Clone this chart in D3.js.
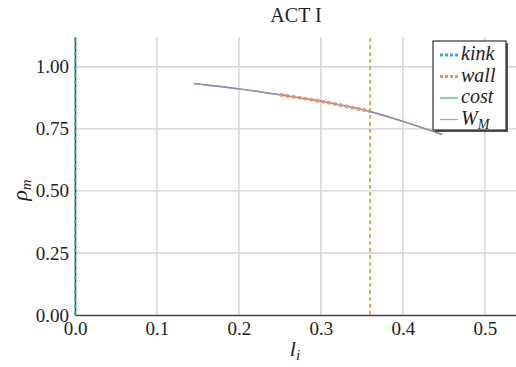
<!DOCTYPE html>
<html><head><meta charset="utf-8">
<script src="https://cdn.jsdelivr.net/npm/d3@7"></script>
</head><body style="margin:0;background:#fff"><svg id="c" width="516" height="367" style="display:block"></svg>
<script>
const xTicks=[0,0.1,0.2,0.3,0.4,0.5];
const yTicks=[0,0.25,0.5,0.75,1.0];
const wmX=[0.145,0.2,0.25,0.3,0.36,0.4,0.448];
const wmY=[0.933,0.911,0.887,0.861,0.820,0.780,0.727];
const wallX=[0.25,0.3,0.36];
const wallY=[0.887,0.861,0.820];
const costX=wmX, costY=wmY;
const vLines=[{x:0,color:"#17becf"},{x:0.36,color:"#bfa030"}];
const legendItems=[{t:"kink",c:"#3ba8e8",dot:true},{t:"wall",c:"#ef8f6f",dot:true},{t:"cost",c:"#55b86a",dot:false},{t:"W",sub:"M",c:"#c98bdc",dot:false}];

const FONT="Liberation Serif";
const svg=d3.select("#c");
const W=516,H=367,m={l:75,r:0,t:37,b:52};
const x=d3.scaleLinear().domain([0,0.538]).range([m.l,W-m.r]);
const y=d3.scaleLinear().domain([0,1.12]).range([H-m.b,m.t]);
function serif(sel){return sel.attr("font-family",FONT).style("font-family",`"${FONT}"`);}

// grid
svg.append("g").selectAll("line").data(xTicks.slice(1)).join("line")
 .attr("x1",d=>x(d)).attr("x2",d=>x(d)).attr("y1",y(0)).attr("y2",m.t)
 .attr("stroke","#d2d2d2").attr("stroke-width",1.4);
svg.append("g").selectAll("line").data(yTicks.slice(1)).join("line")
 .attr("x1",x(0)).attr("x2",W).attr("y1",d=>y(d)).attr("y2",d=>y(d))
 .attr("stroke","#d2d2d2").attr("stroke-width",1.4);

// axes
const xa=svg.append("g").attr("transform",`translate(0,${y(0)})`)
 .call(d3.axisBottom(x).tickValues(xTicks).tickFormat(d3.format(".1f")).tickSize(0).tickPadding(7));
serif(xa);
xa.select(".domain").attr("stroke","#444").attr("stroke-width",1.6);
serif(xa.selectAll("text")).attr("font-size",19).attr("fill","#222");
const ya=svg.append("g").attr("transform",`translate(${x(0)},0)`)
 .call(d3.axisLeft(y).tickValues(yTicks).tickFormat(d3.format(".2f")).tickSize(0).tickPadding(6));
serif(ya);
ya.select(".domain").attr("stroke","#444").attr("stroke-width",1.6);
serif(ya.selectAll("text")).attr("font-size",19).attr("fill","#222");

// vertical lines
svg.append("g").selectAll("line").data(vLines).join("line")
 .attr("x1",d=>x(d.x)).attr("x2",d=>x(d.x)).attr("y1",y(0)).attr("y2",m.t)
 .attr("stroke",d=>d.color).attr("stroke-width",1.5).attr("stroke-dasharray","4,3");

const line=d3.line().x(d=>x(d[0])).y(d=>y(d[1])).curve(d3.curveMonotoneX);
svg.append("path").datum(costX.map((v,i)=>[v,costY[i]])).attr("d",line)
 .attr("fill","none").attr("stroke","#55b86a").attr("stroke-width",1.5);
svg.append("path").datum(wmX.map((v,i)=>[v,wmY[i]])).attr("d",line)
 .attr("fill","none").attr("stroke","#a27fc0").attr("stroke-width",1.5).attr("stroke-opacity",0.85);
svg.append("path").datum(wallX.map((v,i)=>[v,wallY[i]])).attr("d",line)
 .attr("fill","none").attr("stroke","#f0906c").attr("stroke-width",3.5).attr("stroke-dasharray","3.5,2.5");

// title & labels
serif(svg.append("text")).attr("x",296).attr("y",22).attr("text-anchor","middle").attr("font-size",20).attr("fill","#222").text("ACT I");
const xl=serif(svg.append("text")).attr("x",295).attr("y",356).attr("text-anchor","middle").attr("font-size",22).attr("font-style","italic").attr("fill","#222");
xl.append("tspan").text("l");
xl.append("tspan").attr("font-size",15).attr("dy",4).text("i");
const yl=serif(svg.append("text")).attr("transform","translate(27,190) rotate(-90)").attr("text-anchor","middle").attr("font-size",22).attr("font-style","italic").attr("fill","#222");
yl.append("tspan").text("ρ");
yl.append("tspan").attr("font-size",15).attr("dy",4).text("m");

// legend
const lg=svg.append("g");
lg.append("rect").attr("x",435).attr("y",43).attr("width",73).attr("height",89).attr("fill","#555");
lg.append("rect").attr("x",433).attr("y",41).attr("width",73).attr("height",89).attr("fill","#fff").attr("stroke","#333").attr("stroke-width",1.2);
legendItems.forEach((d,i)=>{
 const yy=55+i*21.5;
 lg.append("line").attr("x1",440).attr("x2",458).attr("y1",yy).attr("y2",yy)
  .attr("stroke",d.c).attr("stroke-width",d.dot?3:1.3).attr("stroke-dasharray",d.dot?"3,2":null);
 const t=serif(lg.append("text")).attr("x",461).attr("y",yy+5).attr("font-size",20).attr("font-style","italic").attr("fill","#222");
 t.append("tspan").text(d.t);
 if(d.sub) t.append("tspan").attr("font-size",14).attr("dy",4).text(d.sub);
});
</script></body></html>
